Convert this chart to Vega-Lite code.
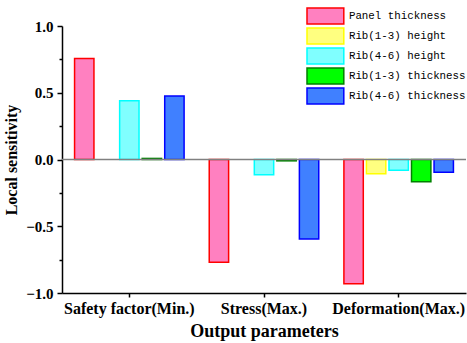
{
  "$schema": "https://vega.github.io/schema/vega-lite/v6.json",
  "width": 404,
  "height": 267,
  "autosize": "none",
  "padding": {"left": 62, "top": 26, "right": 1, "bottom": 50},
  "background": "white",
  "config": {
    "view": {"stroke": null},
    "axis": {
      "grid": false,
      "domainColor": "black",
      "domainWidth": 1.5,
      "tickColor": "black",
      "tickWidth": 1.5,
      "labelFont": "Liberation Serif",
      "labelFontWeight": "bold",
      "labelColor": "black",
      "titleFont": "Liberation Serif",
      "titleFontWeight": "bold",
      "titleColor": "black"
    },
    "legend": {
      "orient": "none",
      "legendX": 254.4,
      "legendY": -19,
      "padding": 0,
      "title": null,
      "symbolType": "M-2.3,-1H2.3V1H-2.3Z",
      "symbolSize": 256,
      "symbolStrokeWidth": 1.5,
      "symbolOpacity": 1,
      "labelFont": "Liberation Mono",
      "labelFontSize": 10.8,
      "labelColor": "black",
      "labelOffset": 14.5,
      "rowPadding": -4
    }
  },
  "data": {
    "values": [
      {"param": "Safety factor(Min.)", "factor": "Panel thickness", "value": 0.757},
      {"param": "Safety factor(Min.)", "factor": "Rib(4-6) height", "value": 0.44},
      {"param": "Safety factor(Min.)", "factor": "Rib(1-3) thickness", "value": 0.008},
      {"param": "Safety factor(Min.)", "factor": "Rib(4-6) thickness", "value": 0.475},
      {"param": "Stress(Max.)", "factor": "Panel thickness", "value": -0.77},
      {"param": "Stress(Max.)", "factor": "Rib(4-6) height", "value": -0.115},
      {"param": "Stress(Max.)", "factor": "Rib(1-3) thickness", "value": -0.01},
      {"param": "Stress(Max.)", "factor": "Rib(4-6) thickness", "value": -0.596},
      {"param": "Deformation(Max.)", "factor": "Panel thickness", "value": -0.93},
      {"param": "Deformation(Max.)", "factor": "Rib(1-3) height", "value": -0.107},
      {"param": "Deformation(Max.)", "factor": "Rib(4-6) height", "value": -0.08},
      {"param": "Deformation(Max.)", "factor": "Rib(1-3) thickness", "value": -0.167},
      {"param": "Deformation(Max.)", "factor": "Rib(4-6) thickness", "value": -0.095}
    ]
  },
  "layer": [
    {
      "mark": {"type": "bar", "strokeWidth": 1.5, "strokeJoin": "miter", "fillOpacity": 1},
      "encoding": {
        "x": {
          "field": "param",
          "type": "nominal",
          "sort": ["Safety factor(Min.)", "Stress(Max.)", "Deformation(Max.)"],
          "scale": {"paddingInner": 0.18, "paddingOuter": 0.09},
          "title": "Output parameters",
          "axis": {"labelAngle": 0, "labelFontSize": 16, "tickSize": 4, "labelPadding": 3, "titleFontSize": 18, "titlePadding": 6}
        },
        "xOffset": {
          "field": "factor",
          "type": "nominal",
          "sort": ["Panel thickness", "Rib(1-3) height", "Rib(4-6) height", "Rib(1-3) thickness", "Rib(4-6) thickness"],
          "scale": {"paddingInner": 0.14, "paddingOuter": 0.02}
        },
        "y": {
          "field": "value",
          "type": "quantitative",
          "scale": {"domain": [-1, 1], "nice": false, "zero": false},
          "title": "Local sensitivity",
          "axis": {"values": [-1, -0.5, 0, 0.5, 1], "format": ".1f", "labelFontSize": 15, "tickSize": 5, "labelPadding": 4, "titleFontSize": 16, "titlePadding": 6}
        },
        "fill": {
          "field": "factor",
          "type": "nominal",
          "scale": {
            "domain": ["Panel thickness", "Rib(1-3) height", "Rib(4-6) height", "Rib(1-3) thickness", "Rib(4-6) thickness"],
            "range": ["#FF80C0", "#FFFF80", "#80FFFF", "#00FF00", "#4080FF"]
          }
        },
        "stroke": {
          "field": "factor",
          "type": "nominal",
          "scale": {
            "domain": ["Panel thickness", "Rib(1-3) height", "Rib(4-6) height", "Rib(1-3) thickness", "Rib(4-6) thickness"],
            "range": ["#FF0000", "#FFFF00", "#00FFFF", "#008000", "#0000FF"]
          }
        }
      }
    },
    {
      "data": {"values": [{"zero": 0}]},
      "mark": {"type": "rule", "color": "#808080", "strokeWidth": 1.5},
      "encoding": {
        "y": {
          "field": "zero",
          "type": "quantitative",
          "scale": {"domain": [-1, 1], "nice": false, "zero": false},
          "axis": {"orient": "left", "values": [-0.75, -0.25, 0.25, 0.75], "labels": false, "domain": false, "tickSize": 3, "title": null}
        }
      }
    }
  ],
  "resolve": {"axis": {"y": "independent"}}
}
